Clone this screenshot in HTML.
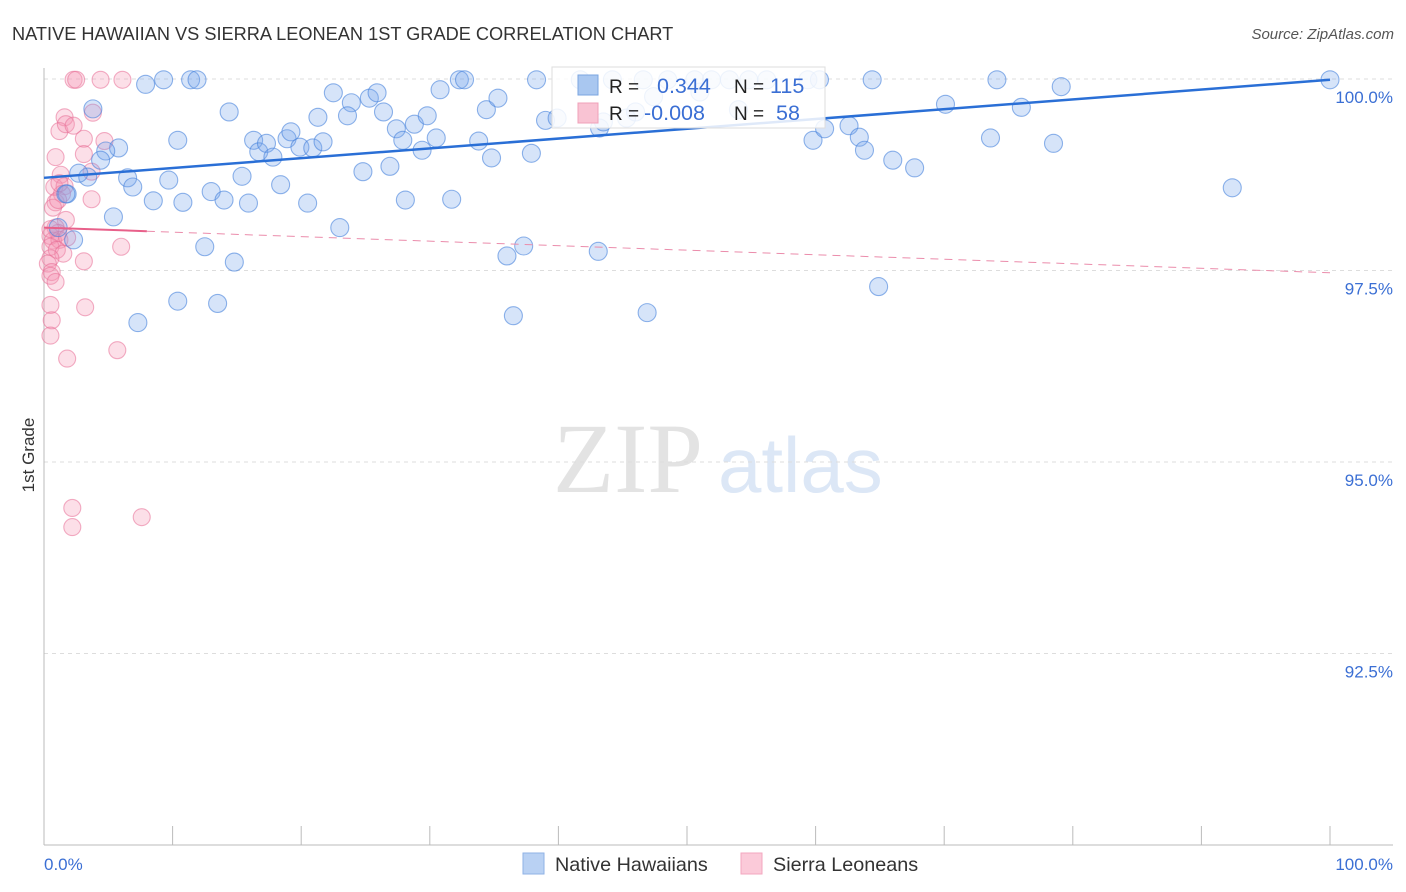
<!DOCTYPE html>
<html><head><meta charset="utf-8"><style>
body{margin:0;background:#fff;font-family:"Liberation Sans",sans-serif;}
svg{display:block}
</style></head><body>
<svg id="chart" width="1406" height="892" font-family="Liberation Sans, sans-serif">
<text x="12" y="40" font-size="18.2" fill="#333">NATIVE HAWAIIAN VS SIERRA LEONEAN 1ST GRADE CORRELATION CHART</text>
<text x="1394" y="39" font-size="15" fill="#555" text-anchor="end" font-style="italic">Source: ZipAtlas.com</text>
<g>
<text x="553" y="492" font-family="Liberation Serif, serif" font-size="100" fill="#e3e3e3">ZIP</text>
<text x="718" y="492" font-size="78" fill="#dce7f6">atlas</text>
</g>
<g id="grid"></g>
<g id="axes"></g>
<g id="pinkPts"></g>
<g id="bluePts"></g>
<g id="trends"></g>
<text x="34" y="455" font-size="17" fill="#333" transform="rotate(-90 34 455)" text-anchor="middle">1st Grade</text>
<g>
<rect x="552" y="67" width="273" height="61" fill="#fff" fill-opacity="0.85" stroke="#ddd"/>
<rect x="578" y="75" width="20" height="20" fill="#a9c7f0" stroke="#7aa5e0"/>
<rect x="578" y="103" width="20" height="20" fill="#f9c3d3" stroke="#f0a0b8"/>
<text x="609" y="93" font-size="19" fill="#222">R = </text><text x="657" y="93" font-size="21.5" fill="#3b6fd4">0.344</text>
<text x="734" y="93" font-size="19" fill="#222">N = </text><text x="770" y="93" font-size="21.5" fill="#3b6fd4">115</text>
<text x="609" y="120" font-size="19" fill="#222">R = </text><text x="644" y="120" font-size="21.5" fill="#3b6fd4">-0.008</text>
<text x="734" y="120" font-size="19" fill="#222">N = </text><text x="776" y="120" font-size="21.5" fill="#3b6fd4">58</text>
</g>
<g>
<rect x="523" y="853" width="21" height="21" fill="#b9d1f3" stroke="#8fb2e6"/>
<text x="555" y="871" font-size="19.8" fill="#333">Native Hawaiians</text>
<rect x="741" y="853" width="21" height="21" fill="#fbcad9" stroke="#f3a7bf"/>
<text x="773" y="871" font-size="19.8" fill="#333">Sierra Leoneans</text>
</g>
</svg>
<script>
const yTicks=[100,97.5,95,92.5];
const yTickLabels=["100.0%","97.5%","95.0%","92.5%"];
const xEndLabels=["0.0%","100.0%"];
const blueX=[7.9,9.3,11.4,11.9,14.4,10.4,3.8,5.8,4.8,4.4,3.4,2.7,1.8,5.4,6.5,6.9,9.7,8.5,10.8,13.0,14.0,15.4,15.9,16.3,16.7,17.3,17.8,18.4,18.9,19.2,19.9,20.5,20.9,21.3,21.7,22.5,23.0,23.9,23.6,24.8,25.3,25.9,26.4,26.9,27.4,27.9,28.1,28.8,29.4,29.8,30.5,30.8,31.7,32.3,32.7,33.8,34.4,34.8,35.3,36.0,36.5,37.3,37.9,38.3,39.0,39.9,41.7,43.1,43.2,43.5,44.2,45.3,46.0,46.6,46.9,47.4,48.5,50.6,51.0,51.9,53.3,54.0,54.8,56.2,59.4,60.3,59.8,60.7,62.6,63.4,63.8,64.4,64.9,66.0,67.7,70.1,73.6,74.1,76.0,78.5,79.1,92.4,100.0,10.4,13.5,12.5,14.8,7.3,2.3,1.1,1.7];
const blueY=[99.93,99.99,99.99,99.99,99.57,99.20,99.61,99.10,99.06,98.94,98.72,98.77,98.50,98.20,98.71,98.59,98.68,98.41,98.39,98.53,98.42,98.73,98.38,99.20,99.05,99.16,98.98,98.62,99.22,99.31,99.11,98.38,99.10,99.50,99.18,99.82,98.06,99.69,99.52,98.79,99.75,99.82,99.57,98.86,99.35,99.20,98.42,99.41,99.07,99.52,99.23,99.86,98.43,99.99,99.99,99.19,99.60,98.97,99.75,97.69,96.91,97.82,99.03,99.99,99.46,99.49,99.99,97.75,99.36,99.44,99.99,99.49,99.57,99.99,96.95,99.77,99.99,99.99,99.83,99.99,99.99,99.60,99.99,99.99,99.99,99.99,99.20,99.35,99.39,99.24,99.07,99.99,97.29,98.94,98.84,99.67,99.23,99.99,99.63,99.16,99.90,98.58,99.99,97.10,97.07,97.81,97.61,96.82,97.90,98.06,98.50];
const pinkX=[2.3,2.5,4.4,6.1,1.6,3.8,1.2,1.7,2.3,3.1,4.7,3.1,0.9,1.3,3.7,0.8,1.6,1.4,3.7,0.9,0.7,1.7,0.9,1.1,0.5,0.7,1.2,1.8,0.5,1.0,1.5,0.5,0.3,0.6,6.0,3.1,0.5,0.9,3.2,0.5,0.6,0.5,5.7,1.8,2.2,2.2,7.6,1.2,1.1,0.5];
const pinkY=[99.99,99.99,99.99,99.99,99.50,99.56,99.32,99.41,99.39,99.22,99.19,99.02,98.98,98.75,98.79,98.59,98.60,98.50,98.43,98.39,98.32,98.16,98.06,97.99,97.95,97.89,97.90,97.93,97.81,97.77,97.72,97.66,97.59,97.48,97.81,97.62,97.43,97.35,97.02,97.05,96.85,96.65,96.46,96.35,94.40,94.15,94.28,98.64,98.42,98.04];
const blueTrend=[98.71,99.99];
const pinkTrend=[98.06,97.47];
const pinkSolidEnd=8;

const NS="http://www.w3.org/2000/svg";
const X0=44,X1=1330,Y100=79,PX_PER=76.6;
const sx=v=>X0+(X1-X0)*v/100;
const sy=v=>Y100+(100-v)*PX_PER;
function mk(tag,attrs,parent){const e=document.createElementNS(NS,tag);for(const k in attrs)e.setAttribute(k,attrs[k]);parent.appendChild(e);return e;}
const grid=document.getElementById('grid'),axes=document.getElementById('axes');
yTicks.forEach((t,i)=>{
 const l=mk('line',{x1:44,x2:1393,y1:sy(t),y2:sy(t),stroke:'#ddd','stroke-dasharray':'4,4'},grid);
 
 
 const tx=mk('text',{x:1393,y:sy(t)+24,'font-size':17,fill:'#3b6fd4','text-anchor':'end'},axes);
 tx.textContent=yTickLabels[i];
 
 
});
const yl=mk('line',{x1:44,x2:44,y1:68,y2:845,stroke:'#bbb'},axes);


const xl=mk('line',{x1:44,x2:1393,y1:845,y2:845,stroke:'#bbb'},axes);


for(let i=0;i<=10;i++){const t=mk('line',{x1:sx(i*10),x2:sx(i*10),y1:826,y2:845,stroke:'#bbb'},axes);
 
 }
[[0,'start',44],[1,'end',1393]].forEach(([i,a,x])=>{const t=mk('text',{x:x,y:870,'font-size':17,fill:'#3b6fd4','text-anchor':a},axes);t.textContent=xEndLabels[i];
 
 });
const pg=document.getElementById('pinkPts');
pinkX.forEach((x,i)=>{const c=mk('circle',{cx:sx(x),cy:sy(pinkY[i]),r:8.5,fill:'rgba(244,150,180,0.3)',stroke:'rgba(232,110,150,0.55)','stroke-width':1.1},pg);
 
 });
const bg=document.getElementById('bluePts');
blueX.forEach((x,i)=>{const c=mk('circle',{cx:sx(x),cy:sy(blueY[i]),r:9,fill:'rgba(120,165,235,0.3)',stroke:'rgba(70,130,220,0.6)','stroke-width':1.1},bg);
 
 });
const tg=document.getElementById('trends');
const bt=mk('line',{x1:sx(0),y1:sy(blueTrend[0]),x2:sx(100),y2:sy(blueTrend[1]),stroke:'#2a6fd6','stroke-width':2.5},tg);


const pAt=x=>pinkTrend[0]+(pinkTrend[1]-pinkTrend[0])*x/100;
const ps=mk('line',{x1:sx(0),y1:sy(pinkTrend[0]),x2:sx(pinkSolidEnd),y2:sy(pAt(pinkSolidEnd)),stroke:'#e8608a','stroke-width':2},tg);


const pd=mk('line',{x1:sx(pinkSolidEnd),y1:sy(pAt(pinkSolidEnd)),x2:sx(100),y2:sy(pinkTrend[1]),stroke:'#eb8cab','stroke-width':1,'stroke-dasharray':'8,6'},tg);


</script>
</body></html>
